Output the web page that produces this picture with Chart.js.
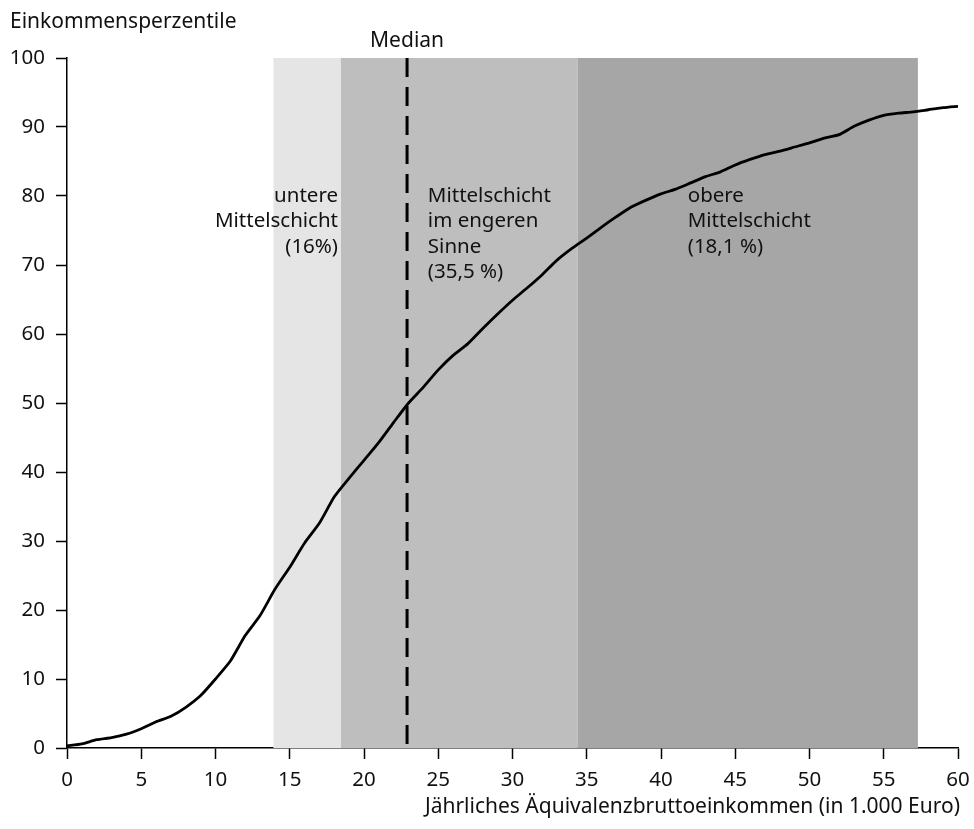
<!DOCTYPE html>
<html>
<head>
<meta charset="utf-8">
<script src="https://cdn.jsdelivr.net/npm/chart.js@4.4.1/dist/chart.umd.min.js"></script>
<style>
  html, body { margin: 0; padding: 0; background: #fff; }
  #wrap { position: relative; width: 974px; height: 829px; }
</style>
</head>
<body>
<div id="wrap"><canvas id="chart"></canvas></div>
<script>
// Einkommen in 1.000 Euro und Perzentil
const incomes = [0, 1, 2, 3, 4, 5, 6, 7, 8, 9, 10, 11, 12, 13, 14, 15, 16, 17, 18, 19, 20,
    21, 22, 23, 24, 25, 26, 27, 28, 29, 30, 31, 32, 33, 34, 35, 36, 37, 38, 39, 40,
    41, 42, 43, 44, 45, 46, 47, 48, 49, 50, 51, 52, 53, 54, 55, 56, 57, 58, 59, 60];
const percentiles = [0.3, 0.6, 1.2, 1.5, 2.0, 2.8, 3.8, 4.6, 5.9, 7.6, 10.0, 12.6, 16.3, 19.2, 23.0, 26.2, 29.7, 32.6, 36.4, 39.1, 41.7,
    44.3, 47.2, 50.0, 52.3, 54.8, 56.9, 58.6, 60.8, 62.9, 64.9, 66.7, 68.6, 70.7, 72.4, 73.9, 75.5, 77.0, 78.4, 79.4, 80.3,
    81.0, 81.9, 82.8, 83.5, 84.5, 85.3, 86.0, 86.5, 87.1, 87.7, 88.4, 88.9, 90.1, 91.0, 91.7, 92.0, 92.2, 92.5, 92.8, 93.0];

const yTicks = [0, 10, 20, 30, 40, 50, 60, 70, 80, 90, 100];
const xTicks = [0, 5, 10, 15, 20, 25, 30, 35, 40, 45, 50, 55, 60];

// Mittelschicht-Bereiche (von, bis)
const bandStarts = [13.9, 18.45, 34.4];
const bandEnds = [18.45, 34.4, 57.3];
const bandColors = ['#e5e5e5', '#bebebe', '#a6a6a6'];
const median = 22.9;

const bandLabels = [
    { lines: ['untere', 'Mittelschicht', '(16%)'], x: 18.25, y: 80.0, align: 'right' },
    { lines: ['Mittelschicht', 'im engeren', 'Sinne', '(35,5 %)'], x: 24.3, y: 80.0, align: 'left' },
    { lines: ['obere', 'Mittelschicht', '(18,1 %)'], x: 41.8, y: 80.0, align: 'left' }
];

const FONT = '"Noto Sans", "Open Sans", sans-serif';

const bandsPlugin = {
    id: 'bands',
    beforeDatasetsDraw(chart) {
        const { ctx, chartArea, scales: { x, y } } = chart;
        ctx.save();
        bandStarts.forEach((s, i) => {
            const x0 = x.getPixelForValue(s);
            const x1 = x.getPixelForValue(bandEnds[i]);
            ctx.fillStyle = bandColors[i];
            ctx.fillRect(x0, chartArea.top, x1 - x0, chartArea.bottom - chartArea.top);
        });

        // Medianlinie
        const mx = x.getPixelForValue(median);
        ctx.strokeStyle = '#000';
        ctx.lineWidth = 3;
        ctx.setLineDash([19, 10]);
        ctx.beginPath();
        ctx.moveTo(mx, chartArea.top);
        ctx.lineTo(mx, chartArea.bottom);
        ctx.stroke();
        ctx.setLineDash([]);

        // Beschriftungen der Bereiche
        ctx.fillStyle = '#111';
        ctx.font = '20.5px ' + FONT;
        ctx.textBaseline = 'middle';
        bandLabels.forEach(b => {
            ctx.textAlign = b.align;
            const px = x.getPixelForValue(b.x);
            const py = y.getPixelForValue(b.y);
            b.lines.forEach((l, j) => ctx.fillText(l, px, py + j * 25.5));
        });
        ctx.restore();
    },
    afterDraw(chart) {
        const { ctx, chartArea, scales: { x } } = chart;
        ctx.save();
        ctx.fillStyle = '#111';
        ctx.font = '21px ' + FONT;
        ctx.textBaseline = 'middle';
        ctx.textAlign = 'left';
        ctx.fillText('Einkommensperzentile', 10, 22);
        ctx.textAlign = 'center';
        ctx.fillText('Median', x.getPixelForValue(median), 41);
        ctx.textAlign = 'right';
        ctx.fillText('Jährliches Äquivalenzbruttoeinkommen (in 1.000 Euro)', chartArea.right + 2, 807);
        ctx.restore();
    }
};

new Chart(document.getElementById('chart').getContext('2d'), {
    type: 'scatter',
    data: {
        datasets: [{
            data: incomes.map((v, i) => ({ x: v, y: percentiles[i] })),
            showLine: true,
            borderColor: '#000',
            borderWidth: 2.8,
            pointRadius: 0,
            tension: 0.2
        }]
    },
    options: {
        responsive: true,
        maintainAspectRatio: false,
        animation: false,
        layout: { padding: { top: 58, right: 16, bottom: 0, left: 0 } },
        plugins: { legend: { display: false }, tooltip: { enabled: false } },
        scales: {
            x: {
                type: 'linear',
                min: 0,
                max: 60,
                afterBuildTicks: s => { s.ticks = xTicks.map(v => ({ value: v })); },
                afterFit: s => { s.height = 81; s.paddingLeft = 0; s.paddingRight = 0; },
                grid: { drawOnChartArea: false, drawTicks: true, tickLength: 11, tickColor: '#000', tickWidth: 1.5 },
                border: { color: '#000', width: 1.5 },
                ticks: { color: '#111', font: { size: 20.5, family: FONT }, padding: 9, maxRotation: 0 }
            },
            y: {
                type: 'linear',
                min: 0,
                max: 100,
                afterBuildTicks: s => { s.ticks = yTicks.map(v => ({ value: v })); },
                afterFit: s => { s.width = 67; s.paddingTop = 0; s.paddingBottom = 0; },
                grid: { drawOnChartArea: false, drawTicks: true, tickLength: 11, tickColor: '#000', tickWidth: 1.5 },
                border: { color: '#000', width: 1.5 },
                ticks: { color: '#111', font: { size: 20.5, family: FONT }, padding: 11 }
            }
        }
    },
    plugins: [bandsPlugin]
});
</script>
</body>
</html>
